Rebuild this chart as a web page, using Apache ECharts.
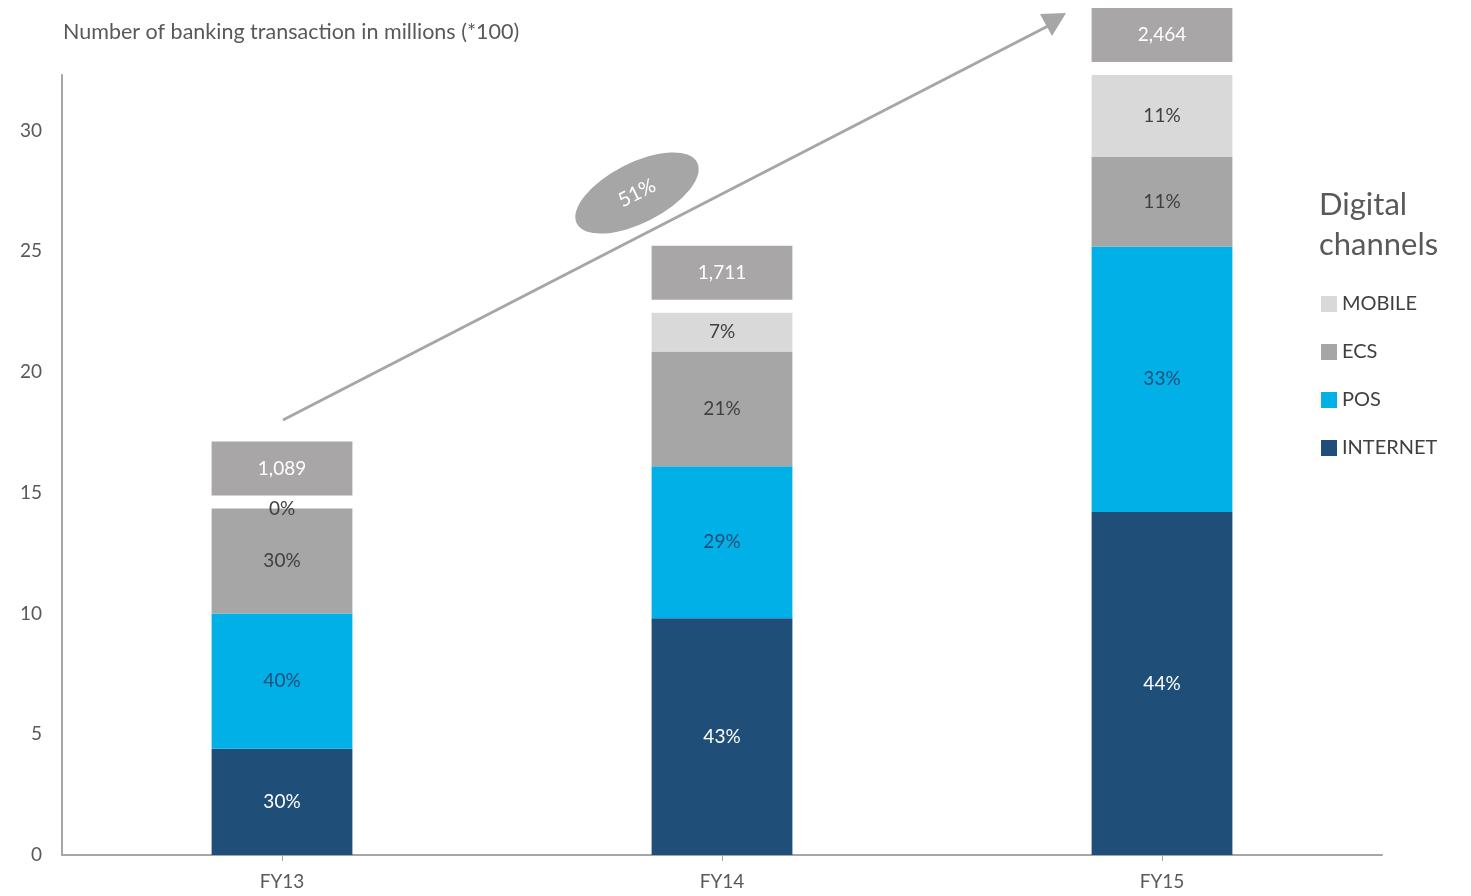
<!DOCTYPE html>
<html>
<head>
<meta charset="utf-8">
<script src="https://cdn.jsdelivr.net/npm/echarts@6/dist/echarts.min.js"></script>
<style>
  html, body { margin: 0; padding: 0; background: #fff; }
  #chart { width: 1471px; height: 896px; }
</style>
</head>
<body>
<div id="chart"></div>
<script>
const categories = ['FY13', 'FY14', 'FY15'];
const internet = [4.4, 9.8, 14.2];
const pos = [5.6, 6.3, 11.0];
const ecs = [4.35, 4.75, 3.7];
const mobile = [0, 1.6, 3.4];

const internetPct = ['30%', '43%', '44%'];
const posPct = ['40%', '29%', '33%'];
const ecsPct = ['30%', '21%', '11%'];
const mobilePct = ['0%', '7%', '11%'];

const totals = ['1,089', '1,711', '2,464'];
const growth = '51%';

const FONT = 'Lato';
const chart = echarts.init(document.getElementById('chart'));

function barSeries(name, data, pct, color, labelColor) {
  return {
    name: name,
    type: 'bar',
    stack: 'total',
    barWidth: '32%',
    clip: false,
    data: data,
    itemStyle: { color: color },
    label: {
      show: true,
      position: 'inside',
      color: labelColor,
      fontSize: 19,
      fontFamily: FONT,
      formatter: p => pct[p.dataIndex]
    }
  };
}

const stackTops = categories.map((c, i) => [i, internet[i] + pos[i] + ecs[i] + mobile[i]]);

const option = {
  animation: false,
  grid: { left: 62, right: 89, top: 75, bottom: 41 },
  legend: {
    data: ['MOBILE', 'ECS', 'POS', 'INTERNET'],
    orient: 'vertical',
    left: 1316,
    top: 289,
    icon: 'rect',
    itemWidth: 16,
    itemHeight: 16,
    itemGap: 28,
    textStyle: { color: '#404040', fontSize: 20, fontFamily: FONT }
  },
  xAxis: {
    type: 'category',
    data: categories,
    axisLine: { lineStyle: { color: '#A6A6A6', width: 2 } },
    axisTick: { show: true, alignWithLabel: true, length: 6, lineStyle: { color: '#A6A6A6' } },
    axisLabel: { color: '#595959', fontSize: 19, fontFamily: FONT, margin: 17 }
  },
  yAxis: {
    type: 'value',
    min: 0,
    max: 32.3,
    interval: 5,
    splitLine: { show: false },
    axisTick: { show: false },
    axisLine: { show: true, lineStyle: { color: '#A6A6A6', width: 2 } },
    axisLabel: { color: '#595959', fontSize: 19, fontFamily: FONT, margin: 20, showMaxLabel: false }
  },
  graphic: [
    {
      type: 'text', left: 63, top: 21,
      style: { text: 'Number of banking transaction in millions (*100)', fill: '#595959', font: '21.5px ' + FONT }
    },
    {
      type: 'text', left: 1319, top: 185,
      style: { text: 'Digital\nchannels', fill: '#595959', font: '31px ' + FONT, lineHeight: 40 }
    },
    {
      type: 'line',
      shape: { x1: 283, y1: 420, x2: 1050, y2: 25 },
      style: { stroke: '#A6A6A6', lineWidth: 3 }
    },
    {
      type: 'polygon',
      shape: { points: [[1066, 13], [1052, 36], [1040, 14]] },
      style: { fill: '#A6A6A6' }
    },
    {
      type: 'group', x: 637, y: 193, rotation: 0.47,
      children: [
        { type: 'circle', shape: { cx: 0, cy: 0, r: 30 }, scaleX: 2.25, style: { fill: '#A6A6A6' } },
        { type: 'text', style: { text: growth, x: 0, y: 0, align: 'center', verticalAlign: 'middle', fill: '#fff', font: '20px ' + FONT } }
      ]
    }
  ],
  series: [
    barSeries('INTERNET', internet, internetPct, '#1F4E79', '#ffffff'),
    barSeries('POS', pos, posPct, '#00B0E6', '#1F4E79'),
    barSeries('ECS', ecs, ecsPct, '#A6A6A6', '#404040'),
    barSeries('MOBILE', mobile, mobilePct, '#D9D9D9', '#404040'),
    {
      name: 'TOTAL',
      type: 'custom',
      data: stackTops,
      encode: { x: 0, y: 1 },
      z: 5,
      renderItem: function (params, api) {
        const p = api.coord([api.value(0), api.value(1)]);
        const w = api.size([1, 0])[0] * 0.32;
        const h = 54, gap = 13;
        return {
          type: 'group',
          children: [
            { type: 'rect', shape: { x: p[0] - w / 2, y: p[1] - gap - h, width: w, height: h }, style: { fill: '#A8A6A6' } },
            { type: 'text', style: { text: totals[params.dataIndex], x: p[0], y: p[1] - gap - h / 2, align: 'center', verticalAlign: 'middle', fill: '#ffffff', font: '19px ' + FONT } }
          ]
        };
      }
    }
  ]
};

chart.setOption(option);
</script>
</body>
</html>
